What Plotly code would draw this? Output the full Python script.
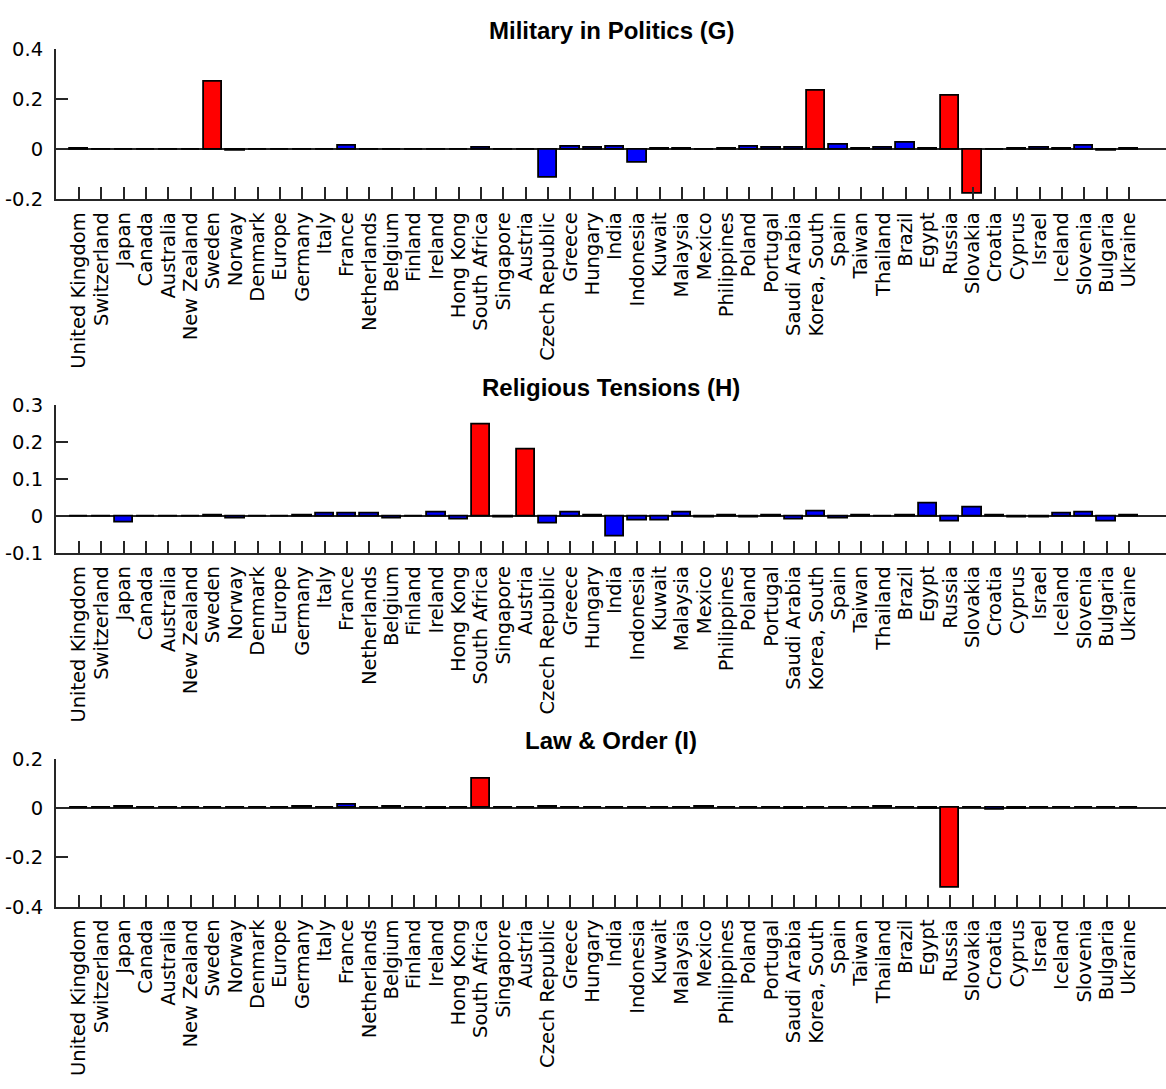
import plotly.graph_objects as go

countries = ["United Kingdom", "Switzerland", "Japan", "Canada", "Australia", "New Zealand",
             "Sweden", "Norway", "Denmark", "Europe", "Germany", "Italy", "France",
             "Netherlands", "Belgium", "Finland", "Ireland", "Hong Kong", "South Africa",
             "Singapore", "Austria", "Czech Republic", "Greece", "Hungary", "India",
             "Indonesia", "Kuwait", "Malaysia", "Mexico", "Philippines", "Poland", "Portugal",
             "Saudi Arabia", "Korea, South", "Spain", "Taiwan", "Thailand", "Brazil", "Egypt",
             "Russia", "Slovakia", "Croatia", "Cyprus", "Israel", "Iceland", "Slovenia",
             "Bulgaria", "Ukraine"]

military = [0.001, 0.0, -0.001, 0.0, 0.0, 0.0, 0.27, -0.005, 0.0, 0.0, 0.0, 0.0, 0.012,
            0.0, 0.0, 0.0, 0.0, -0.002, 0.007, 0.0, -0.002, -0.115, 0.008, 0.004, 0.01,
            -0.052, 0.003, 0.001, -0.003, 0.003, 0.01, 0.006, 0.007, 0.232, 0.018, 0.001,
            0.005, 0.025, 0.003, 0.214, -0.178, -0.001, 0.002, 0.007, 0.001, 0.012, -0.006,
            0.001]
religious = [0.0, 0.0, -0.016, 0.0, 0.0, 0.0, 0.001, -0.006, 0.0, 0.0, 0.003, 0.008, 0.008,
             0.008, -0.005, 0.0, 0.011, -0.008, 0.249, -0.004, 0.181, -0.018, 0.011, 0.002,
             -0.054, -0.011, -0.011, 0.011, -0.004, 0.001, -0.003, 0.001, -0.008, 0.013,
             -0.007, 0.001, -0.001, 0.001, 0.034, -0.013, 0.024, 0.001, -0.004, -0.002,
             0.008, 0.01, -0.013, 0.001]
law_order = [0.001, 0.001, 0.004, 0.001, 0.001, 0.002, 0.001, 0.001, 0.001, 0.001, 0.004,
             0.002, 0.014, 0.001, 0.004, 0.001, -0.002, 0.001, 0.12, 0.001, 0.001, 0.004,
             0.003, 0.003, 0.002, 0.002, 0.002, 0.002, 0.005, 0.003, 0.003, 0.003, -0.004,
             0.001, 0.001, 0.001, 0.004, 0.001, -0.003, -0.322, 0.001, -0.006, -0.001,
             0.001, 0.002, 0.002, 0.002, 0.001]

military_highlight = ["Sweden", "Korea, South", "Russia", "Slovakia"]
religious_highlight = ["South Africa", "Austria"]
law_order_highlight = ["South Africa", "Russia"]

titles = ["Military in Politics (G)", "Religious Tensions (H)", "Law & Order (I)"]
y_ranges = [[-0.2, 0.4], [-0.1, 0.3], [-0.4, 0.2]]
y_ticks = [[-0.2, 0, 0.2, 0.4], [-0.1, 0, 0.1, 0.2, 0.3], [-0.4, -0.2, 0, 0.2]]
y_ticktext = [["-0.2", "0", "0.2", "0.4"], ["-0.1", "0", "0.1", "0.2", "0.3"],
              ["-0.4", "-0.2", "0", "0.2"]]

W, H = 1166, 1089
TICKFONT = "DejaVu Sans, Liberation Sans, Arial, sans-serif"
TITLEFONT = "Liberation Sans, Arial, Helvetica, sans-serif"
AX = "#262626"

# panel pixel positions (top, bottom)
panels_px = [(38.5, 192.5), (403, 554), (764, 915)]

fig = go.Figure()
series = [military, religious, law_order]
highlights = [military_highlight, religious_highlight, law_order_highlight]

for i, (vals, hl) in enumerate(zip(series, highlights)):
    colors = ["#ff0000" if c in hl else "#0000ff" for c in countries]
    fig.add_trace(go.Bar(
        x=countries, y=vals, width=0.82,
        marker=dict(color=colors, line=dict(color="black", width=1.8)),
        xaxis=f"x{i+1}" if i else "x", yaxis=f"y{i+1}" if i else "y",
        showlegend=False, hoverinfo="x+y"))

layout = dict(width=W, height=H, plot_bgcolor="white", paper_bgcolor="white",
              margin=dict(l=56, r=0, t=0, b=0, pad=0), bargap=0,
              font=dict(family=TICKFONT, size=19.5, color=AX))
annotations = []
for i in range(3):
    top, bot = panels_px[i]
    dom = [1 - bot / H, 1 - top / H]
    xk = "xaxis" if i == 0 else f"xaxis{i+1}"
    yk = "yaxis" if i == 0 else f"yaxis{i+1}"
    yid = "y" if i == 0 else f"y{i+1}"
    xid = "x" if i == 0 else f"x{i+1}"
    layout[xk] = dict(domain=[0, 1], anchor=yid, type="category",
                      range=[-1.03, 48.66], tickangle=-90,
                      tickmode="array", tickvals=countries, ticktext=countries,
                      showline=True, linecolor=AX, linewidth=2,
                      ticks="inside", ticklen=12, tickwidth=1.8, tickcolor=AX,
                      showgrid=False, zeroline=False, ticklabelstandoff=3,
                      tickfont=dict(family=TICKFONT, size=19.5, color="black"))
    layout[yk] = dict(domain=dom, anchor=xid, range=y_ranges[i],
                      tickvals=y_ticks[i], ticktext=y_ticktext[i],
                      showline=True, linecolor=AX, linewidth=2,
                      ticks="inside", ticklen=12, tickwidth=1.8, tickcolor=AX,
                      showgrid=False, zeroline=True, zerolinecolor=AX,
                      zerolinewidth=1.8, ticklabelstandoff=7,
                      tickfont=dict(family=TICKFONT, size=19.5, color="black"))
    annotations.append(dict(text=f"<b>{titles[i]}</b>", xref="paper", yref="paper",
                            x=0.5, y=1 - (top - 18.5) / H, xanchor="center",
                            yanchor="middle", showarrow=False,
                            font=dict(family=TITLEFONT, size=24, color="black")))
layout["annotations"] = annotations
fig.update_layout(**layout)

fig.write_html("out.html", config={"displayModeBar": False},
               post_script="document.body.style.margin='0';")
